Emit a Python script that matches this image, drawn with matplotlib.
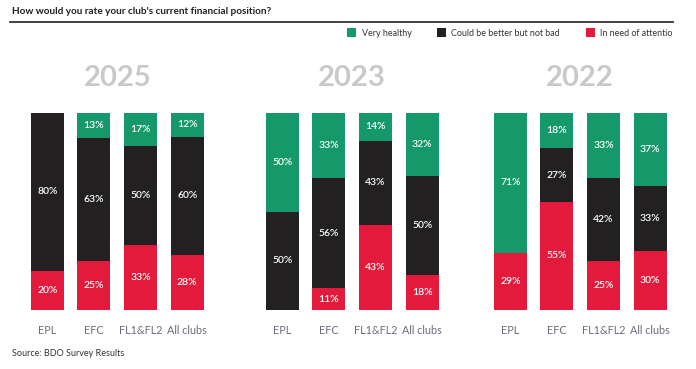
import numpy as np
import matplotlib
matplotlib.use("Agg")
import matplotlib.pyplot as plt
from matplotlib.patches import Rectangle
from matplotlib.transforms import Bbox

plt.rcParams['font.family'] = ['Lato', 'DejaVu Sans']

categories = ["EPL", "EFC", "FL1&FL2", "All clubs"]
years = ["2025", "2023", "2022"]
series = ["Very healthy", "Could be better but not bad", "In need of attention"]

# values per year: [EPL, EFC, FL1&FL2, All clubs]
healthy_2025 = [0, 13, 17, 12]
could_2025 = [80, 63, 50, 60]
attention_2025 = [20, 25, 33, 28]

healthy_2023 = [50, 33, 14, 32]
could_2023 = [50, 56, 43, 50]
attention_2023 = [0, 11, 43, 18]

healthy_2022 = [71, 18, 33, 37]
could_2022 = [0, 27, 42, 33]
attention_2022 = [29, 55, 25, 30]

data = {
    "2025": (healthy_2025, could_2025, attention_2025),
    "2023": (healthy_2023, could_2023, attention_2023),
    "2022": (healthy_2022, could_2022, attention_2022),
}

green = "#16996a"
black = "#222021"
red = "#e31a3b"

W, H = 696, 369
fig = plt.figure(figsize=(W / 100, H / 100), dpi=100)

def px(x0, y0, w, h):
    # pixel box (top-left origin) -> figure fraction
    return [x0 / W, (H - y0 - h) / H, w / W, h / H]

panel_left = [24, 259, 487]
panel_w = 186.5
bar_top, bar_bot = 113, 310

for yr, left in zip(years, panel_left):
    ax = fig.add_axes(px(left, bar_top, panel_w, bar_bot - bar_top))
    healthy, could, attention = [np.array(s, dtype=float) for s in data[yr]]
    total = healthy + could + attention
    x = np.arange(len(categories))
    bottom = np.zeros(len(categories))
    # stack from bottom: attention, could, healthy
    for vals, col in [(attention, red), (could, black), (healthy, green)]:
        h = vals / total * 100
        ax.bar(x, h, bottom=bottom, width=0.71, color=col, edgecolor='none')
        for xi, v, b, hh in zip(x, vals, bottom, h):
            if v > 0:
                ax.text(xi, b + hh / 2, f"{int(v)}%", ha='center', va='center',
                        color='white', fontsize=7.5, fontweight='semibold')
        bottom = bottom + h
    ax.set_xlim(-0.5, 3.5)
    ax.set_ylim(0, 100)
    ax.set_yticks([])
    ax.set_xticks(x)
    ax.set_xticklabels(categories, fontsize=7.8, color="#6b6e7a")
    ax.tick_params(axis='x', length=0, pad=11)
    for s in ax.spines.values():
        s.set_visible(False)
    ax.text(0.5, 1.0 + 35 / 197, yr, transform=ax.transAxes, ha='center', va='center',
            fontsize=21, fontweight='bold', color="#c9c9c9")

# title and rule
fig.text(12 / W, 1 - 12 / H, "How would you rate your club's current financial position?",
         ha='left', va='center', fontsize=7.2, fontweight='bold', color="#222222")
fig.add_artist(plt.Line2D([10 / W, 673 / W], [1 - 22 / H, 1 - 22 / H],
                          color="#333333", linewidth=1.3))

# legend
leg = [(347, 362, green, series[0]), (437, 451, black, series[1]), (586, 600, red, series[2])]
for sx, tx, col, lab in leg:
    fig.add_artist(Rectangle((sx / W, 1 - 37 / H), 9 / W, 9 / H, transform=fig.transFigure,
                             facecolor=col, edgecolor='none'))
    t = fig.text(tx / W, 1 - 33 / H, lab, ha='left', va='center', fontsize=6.4, color="#333333")
    if lab == series[2]:
        t.set_clip_box(Bbox([[0, 0], [673, H]]))
        t.set_clip_on(True)

fig.text(12 / W, 1 - 354 / H, "Source: BDO Survey Results", ha='left', va='center',
         fontsize=6.5, color="#333333")

fig.savefig("out.png", dpi=100, facecolor='white')
